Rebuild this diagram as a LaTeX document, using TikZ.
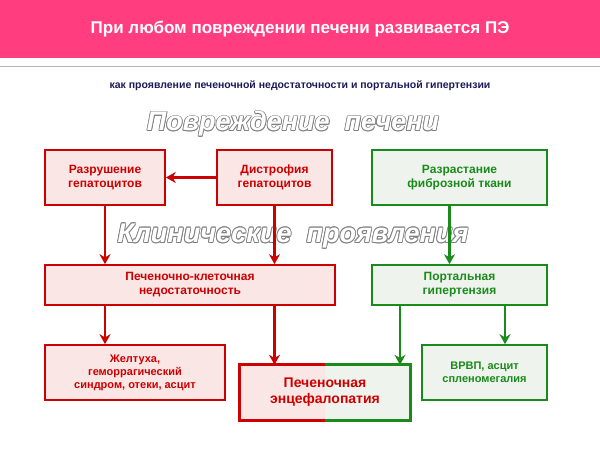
\documentclass[tikz,border=0pt]{standalone}
\usepackage{fontspec}
\setmainfont{Liberation Sans}
\usetikzlibrary{arrows.meta}
\definecolor{hdr}{HTML}{FF3D7F}
\definecolor{rd}{HTML}{CC0000}
\definecolor{gr}{HTML}{1A8A1A}
\definecolor{rfill}{HTML}{FBE6E6}
\definecolor{gfill}{HTML}{EEF3EE}
\definecolor{navy}{HTML}{1A1A5A}
\tikzset{
  rbox/.style={draw=rd, line width=1.6pt, fill=rfill, text=rd, font=\bfseries\fontsize{12}{14}\selectfont, align=center, inner sep=0pt},
  gbox/.style={draw=gr, line width=1.6pt, fill=gfill, text=gr, font=\bfseries\fontsize{12}{14}\selectfont, align=center, inner sep=0pt},
  rarr/.style={draw=rd, line width=2.8pt, -{Stealth[length=10pt,width=11pt]}},
  garr/.style={draw=gr, line width=2.8pt, -{Stealth[length=10pt,width=11pt]}},
  big/.style={font=\bfseries\itshape\fontsize{27}{30}\selectfont}
}
\begin{document}
\begin{tikzpicture}[x=1pt,y=-1pt]
\useasboundingbox (0,0) rectangle (600,450);
\fill[white] (0,0) rectangle (600,450);
\fill[hdr] (0,0) rectangle (600,58);
\node[text=white, font=\bfseries\fontsize{17}{20}\selectfont] (title) at (300,29) {При любом повреждении печени развивается ПЭ};
\draw[gray!60, line width=1pt] (0,66) -- (600,66);
\node[text=navy, font=\bfseries\fontsize{10.5}{12}\selectfont] (sub) at (300,86) {как проявление печеночной недостаточности и портальной гипертензии};
\foreach \dx/\dy in {-0.8/0,0.8/0,0/-0.8,0/0.8,-0.6/-0.6,0.6/0.6,-0.6/0.6,0.6/-0.6}{
  \node[big, text=gray] at (293+\dx,124+\dy) {Повреждение\ \ печени};
  \node[big, text=gray] at (293+\dx,236+\dy) {Клинические\ \ проявления};
}
\node[big, text=white] (t1) at (293,124) {Повреждение\ \ печени};
\node[big, text=white] (t2) at (293,236) {Клинические\ \ проявления};
\node[rbox, minimum width=120, minimum height=55] (a) at (105,177.5) {Разрушение\\гепатоцитов};
\node[rbox, minimum width=115, minimum height=55] (b) at (274.5,177.5) {Дистрофия\\гепатоцитов};
\node[gbox, minimum width=175, minimum height=55] (c) at (459.5,177.5) {Разрастание\\фиброзной ткани};
\node[rbox, minimum width=290, minimum height=40] (d) at (190,285) {Печеночно-клеточная\\недостаточность};
\node[gbox, minimum width=175, minimum height=40] (e) at (459.5,285) {Портальная\\гипертензия};
\node[rbox, minimum width=180, minimum height=55, font=\bfseries\fontsize{11}{13}\selectfont] (f) at (135,372.5) {Желтуха,\\геморрагический\\синдром, отеки, асцит};
\node[gbox, minimum width=125, minimum height=55, font=\bfseries\fontsize{11}{13}\selectfont] (g) at (484.5,372.5) {ВРВП, асцит\\спленомегалия};
\node[minimum width=170, minimum height=55, inner sep=0pt] (h) at (325,392.5) {};
\fill[rfill] (h.north west) rectangle (h.south);
\fill[gfill] (h.north) rectangle (h.south east);
\draw[rd, line width=3pt] (h.north) -- (h.north west) -- (h.south west) -- (h.south);
\draw[gr, line width=3pt] (h.north) -- (h.north east) -- (h.south east) -- (h.south);
\node[text=rd, font=\bfseries\fontsize{14}{16}\selectfont, align=center] (ht) at (h.center) {Печеночная\\энцефалопатия};
\draw[rarr] (b.west) -- (a.east);
\draw[rarr] (a.south) -- (a.south |- d.north);
\draw[rarr] (b.south) -- (b.south |- d.north);
\draw[garr] ([xshift=-10pt]c.south) -- ([xshift=-10pt]c.south |- e.north);
\draw[rarr] (a.south |- d.south) -- (a.south |- f.north);
\draw[rarr] (b.south |- d.south) -- (b.south |- h.north);
\coordinate (e1) at (400,305);
\draw[garr] (e1) -- (e1 |- h.north);
\coordinate (e2) at (505,305);
\draw[garr] (e2) -- (e2 |- g.north);
\end{tikzpicture}
\end{document}
